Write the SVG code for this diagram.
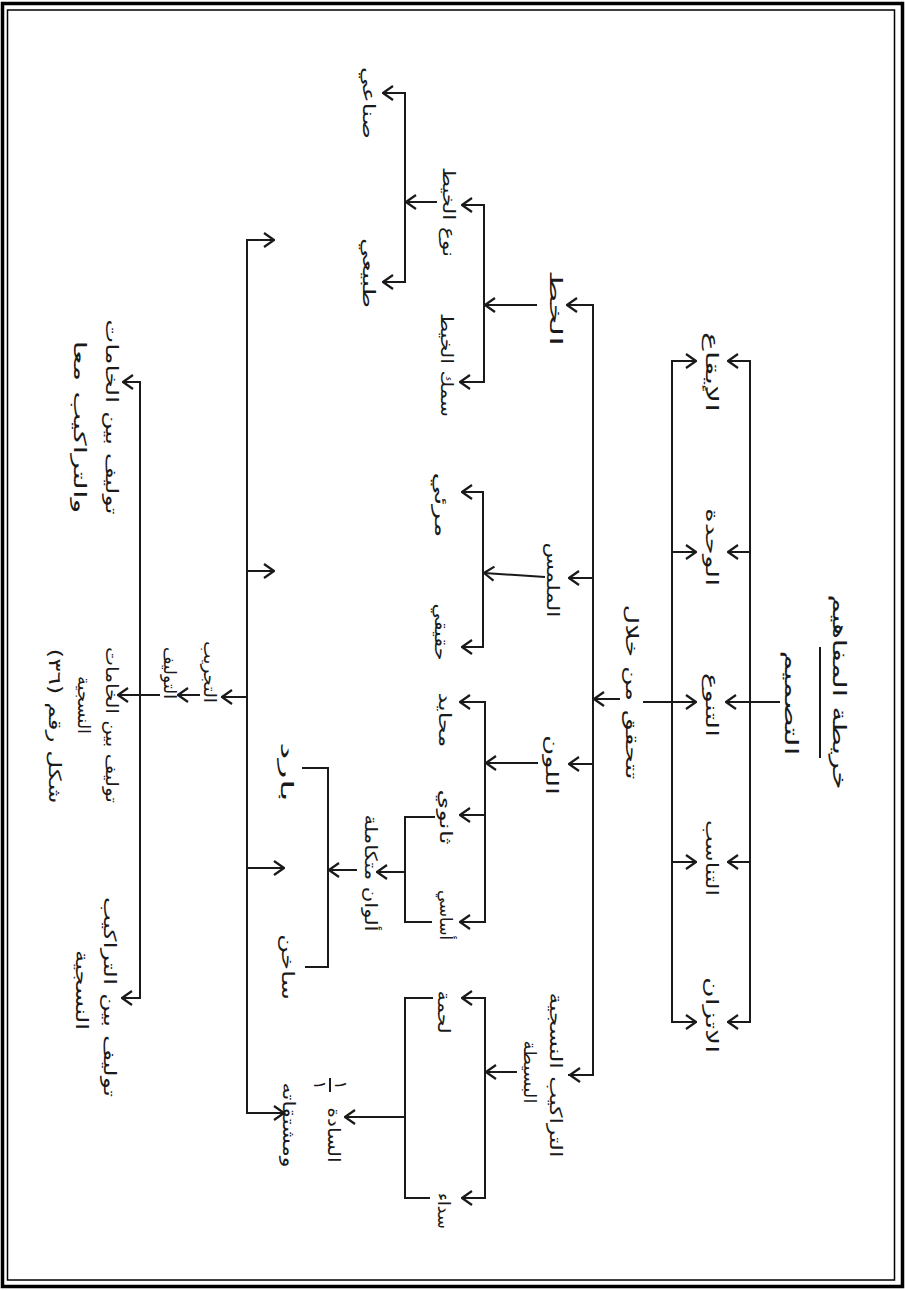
<svg xmlns="http://www.w3.org/2000/svg" width="905" height="1290" viewBox="0 0 905 1290">
<style>
.t{font-family:"DejaVu Sans",sans-serif;font-size:17px;fill:#1a1a1a;text-anchor:middle;dominant-baseline:central}
.ti{font-size:19px}
.c{fill:none;stroke:#1a1a1a;stroke-width:2}
.a{fill:none;stroke:#1a1a1a;stroke-width:2;marker-end:url(#ah)}
</style>
<defs>
<marker id="ah" viewBox="0 0 12 16" refX="11" refY="8" markerWidth="12" markerHeight="16" markerUnits="userSpaceOnUse" orient="auto">
<path d="M1,1 L11,8 L1,15" fill="none" stroke="#1a1a1a" stroke-width="2.2"/>
</marker>
</defs>
<rect x="0" y="0" width="905" height="1290" fill="#ffffff"/>
<g id="border">
<rect x="2.5" y="3.5" width="900" height="1283" fill="none" stroke="#000" stroke-width="3.5"/>
<rect x="7.5" y="10" width="887" height="1270" fill="none" stroke="#000" stroke-width="1.5"/>
</g>
<g id="connectors">
<line class="c" x1="820" y1="647" x2="820" y2="758"/>
<line class="a" x1="780" y1="702" x2="726" y2="702"/>
<polyline class="c" points="729,361 750,361 750,1022 729,1022"/>
<line class="a" x1="750" y1="361" x2="728" y2="361"/>
<line class="a" x1="750" y1="552" x2="728" y2="552"/>
<line class="a" x1="750" y1="862" x2="728" y2="862"/>
<line class="a" x1="750" y1="1022" x2="728" y2="1022"/>
<polyline class="c" points="696,361 672,361 672,1022 696,1022"/>
<line class="a" x1="672" y1="361" x2="696" y2="361"/>
<line class="a" x1="672" y1="552" x2="696" y2="552"/>
<line class="a" x1="643" y1="702" x2="696" y2="702"/>
<line class="a" x1="672" y1="862" x2="696" y2="862"/>
<line class="a" x1="672" y1="1022" x2="696" y2="1022"/>
<line class="a" x1="620" y1="699" x2="594" y2="699"/>
<polyline class="c" points="568,305 593,305 593,1075 568,1075"/>
<line class="a" x1="593" y1="305" x2="567" y2="305"/>
<line class="a" x1="593" y1="578" x2="569" y2="578"/>
<line class="a" x1="593" y1="764" x2="569" y2="764"/>
<line class="a" x1="593" y1="1075" x2="570" y2="1075"/>
<line class="a" x1="537" y1="305" x2="485" y2="305"/>
<polyline class="c" points="462,205 484,205 484,382 462,382"/>
<line class="a" x1="484" y1="205" x2="462" y2="205"/>
<line class="a" x1="484" y1="382" x2="460" y2="382"/>
<line class="a" x1="437" y1="202" x2="406" y2="202"/>
<polyline class="c" points="384,93 405,93 405,282 384,282"/>
<line class="a" x1="405" y1="93" x2="383" y2="93"/>
<line class="a" x1="405" y1="282" x2="383" y2="282"/>
<line class="a" x1="545" y1="577" x2="484" y2="573"/>
<polyline class="c" points="462,492 483,492 483,647 462,647"/>
<line class="a" x1="483" y1="492" x2="462" y2="492"/>
<line class="a" x1="483" y1="647" x2="462" y2="647"/>
<line class="a" x1="538" y1="763" x2="486" y2="763"/>
<polyline class="c" points="460,702 485,702 485,922 460,922"/>
<line class="a" x1="485" y1="702" x2="460" y2="702"/>
<line class="a" x1="485" y1="815" x2="460" y2="815"/>
<line class="a" x1="485" y1="922" x2="460" y2="922"/>
<polyline class="c" points="435,817 405,817 405,922 432,922"/>
<line class="a" x1="405" y1="872" x2="377" y2="872"/>
<line class="a" x1="357" y1="870" x2="329" y2="870"/>
<polyline class="c" points="302,768 328,768 328,967 305,967"/>
<line class="a" x1="517" y1="1072" x2="486" y2="1072"/>
<polyline class="c" points="462,998 485,998 485,1198 462,1198"/>
<line class="a" x1="485" y1="998" x2="462" y2="998"/>
<line class="a" x1="485" y1="1198" x2="462" y2="1198"/>
<polyline class="c" points="433,998 405,998 405,1198 430,1198"/>
<line class="a" x1="405" y1="1117" x2="345" y2="1117"/>
<polyline class="c" points="273,240 247,240 247,1113 283,1113"/>
<line class="a" x1="247" y1="240" x2="274" y2="240"/>
<line class="a" x1="247" y1="571" x2="274" y2="571"/>
<line class="a" x1="247" y1="868" x2="284" y2="868"/>
<line class="a" x1="247" y1="1113" x2="284" y2="1113"/>
<line class="a" x1="247" y1="697" x2="222" y2="697"/>
<line class="a" x1="200" y1="695" x2="178" y2="695"/>
<line class="a" x1="160" y1="695" x2="118" y2="695"/>
<polyline class="c" points="123,382 140,382 140,998 122,998"/>
<line class="a" x1="140" y1="382" x2="123" y2="382"/>
<line class="a" x1="140" y1="998" x2="122" y2="998"/>
<line class="c" x1="330" y1="1078" x2="330" y2="1092"/>
</g>
<g id="n-title"><text class="t ti" transform="translate(840,692) rotate(90)" textLength="195" lengthAdjust="spacingAndGlyphs">خريطة المفاهيم</text></g>
<g id="n-design"><text class="t ti" transform="translate(792,703) rotate(90)" textLength="105" lengthAdjust="spacingAndGlyphs">التصميم</text></g>
<g id="n-rhythm"><text class="t" transform="translate(712,372) rotate(90)" textLength="80" lengthAdjust="spacingAndGlyphs">الإيقاع</text></g>
<g id="n-unity"><text class="t" transform="translate(712,547) rotate(90)" textLength="78" lengthAdjust="spacingAndGlyphs">الوحدة</text></g>
<g id="n-variety"><text class="t" transform="translate(712,705) rotate(90)" textLength="64" lengthAdjust="spacingAndGlyphs">التنوع</text></g>
<g id="n-proportion"><text class="t" transform="translate(712,858) rotate(90)" textLength="76" lengthAdjust="spacingAndGlyphs">التناسب</text></g>
<g id="n-balance"><text class="t" transform="translate(712,1015) rotate(90)" textLength="76" lengthAdjust="spacingAndGlyphs">الاتزان</text></g>
<g id="n-through"><text class="t" transform="translate(632,692) rotate(90)" textLength="175" lengthAdjust="spacingAndGlyphs">تتحقق من خلال</text></g>
<g id="n-line"><text class="t" transform="translate(556,308) rotate(90)" textLength="76" lengthAdjust="spacingAndGlyphs">الخط</text></g>
<g id="n-texture"><text class="t" transform="translate(553,580) rotate(90)" textLength="75" lengthAdjust="spacingAndGlyphs">الملمس</text></g>
<g id="n-color"><text class="t" transform="translate(552,765) rotate(90)" textLength="60" lengthAdjust="spacingAndGlyphs">اللون</text></g>
<g id="n-weaves">
<text class="t" transform="translate(556,1075) rotate(90)" textLength="165" lengthAdjust="spacingAndGlyphs">التراكيب النسجية</text>
<text class="t" transform="translate(530,1072) rotate(90)" textLength="63" lengthAdjust="spacingAndGlyphs">البسيطة</text>
</g>
<g id="n-yarntype"><text class="t" transform="translate(449,212) rotate(90)" textLength="90" lengthAdjust="spacingAndGlyphs">نوع الخيط</text></g>
<g id="n-yarnthick"><text class="t" transform="translate(447,365) rotate(90)" textLength="104" lengthAdjust="spacingAndGlyphs">سمك الخيط</text></g>
<g id="n-synthetic"><text class="t" transform="translate(369,103) rotate(90)" textLength="72" lengthAdjust="spacingAndGlyphs">صناعي</text></g>
<g id="n-natural"><text class="t" transform="translate(369,273) rotate(90)" textLength="70" lengthAdjust="spacingAndGlyphs">طبيعي</text></g>
<g id="n-visual"><text class="t" transform="translate(441,505) rotate(90)" textLength="65" lengthAdjust="spacingAndGlyphs">مرئي</text></g>
<g id="n-real"><text class="t" transform="translate(441,632) rotate(90)" textLength="57" lengthAdjust="spacingAndGlyphs">حقيقي</text></g>
<g id="n-neutral"><text class="t" transform="translate(445,720) rotate(90)" textLength="55" lengthAdjust="spacingAndGlyphs">محايد</text></g>
<g id="n-secondary"><text class="t" transform="translate(446,817) rotate(90)" textLength="55" lengthAdjust="spacingAndGlyphs">ثانوي</text></g>
<g id="n-primary"><text class="t" transform="translate(446,915) rotate(90)" textLength="50" lengthAdjust="spacingAndGlyphs">أساسي</text></g>
<g id="n-complementary"><text class="t" transform="translate(371,873) rotate(90)" textLength="117" lengthAdjust="spacingAndGlyphs">ألوان متكاملة</text></g>
<g id="n-cold"><text class="t" transform="translate(287,772) rotate(90)" textLength="60" lengthAdjust="spacingAndGlyphs">بارد</text></g>
<g id="n-hot"><text class="t" transform="translate(288,967) rotate(90)" textLength="66" lengthAdjust="spacingAndGlyphs">ساخن</text></g>
<g id="n-weft"><text class="t" transform="translate(444,1012) rotate(90)" textLength="43" lengthAdjust="spacingAndGlyphs">لحمة</text></g>
<g id="n-warp"><text class="t" transform="translate(444,1211) rotate(90)">سداء</text></g>
<g id="n-plain">
<text class="t" transform="translate(334,1135) rotate(90)" textLength="55" lengthAdjust="spacingAndGlyphs">السادة</text>
<text class="t" transform="translate(341,1085) rotate(90)">١</text>
<text class="t" transform="translate(320,1085) rotate(90)">١</text>
<text class="t" transform="translate(289,1125) rotate(90)" textLength="85" lengthAdjust="spacingAndGlyphs">ومشتقاته</text>
</g>
<g id="n-experiment"><text class="t" transform="translate(210,672) rotate(90)" textLength="62" lengthAdjust="spacingAndGlyphs">التجريب</text></g>
<g id="n-combination"><text class="t" transform="translate(170,673) rotate(90)" textLength="52" lengthAdjust="spacingAndGlyphs">التوليف</text></g>
<g id="n-comb-both">
<text class="t" transform="translate(112,417) rotate(90)" textLength="195" lengthAdjust="spacingAndGlyphs">توليف بين الخامات</text>
<text class="t" transform="translate(80,427) rotate(90)" textLength="173" lengthAdjust="spacingAndGlyphs">والتراكيب معا</text>
</g>
<g id="n-comb-materials">
<text class="t" transform="translate(112,725) rotate(90)" textLength="156" lengthAdjust="spacingAndGlyphs">توليف بين الخامات</text>
<text class="t" transform="translate(84,705) rotate(90)" textLength="58" lengthAdjust="spacingAndGlyphs">النسجية</text>
</g>
<g id="n-comb-weaves">
<text class="t" transform="translate(110,997) rotate(90)" textLength="200" lengthAdjust="spacingAndGlyphs">توليف بين التراكيب</text>
<text class="t" transform="translate(82,990) rotate(90)" textLength="80" lengthAdjust="spacingAndGlyphs">النسجية</text>
</g>
<g id="caption"><text class="t" transform="translate(55,726) rotate(90)" textLength="155" lengthAdjust="spacingAndGlyphs">شكل رقم (٣٦)</text></g>
</svg>
